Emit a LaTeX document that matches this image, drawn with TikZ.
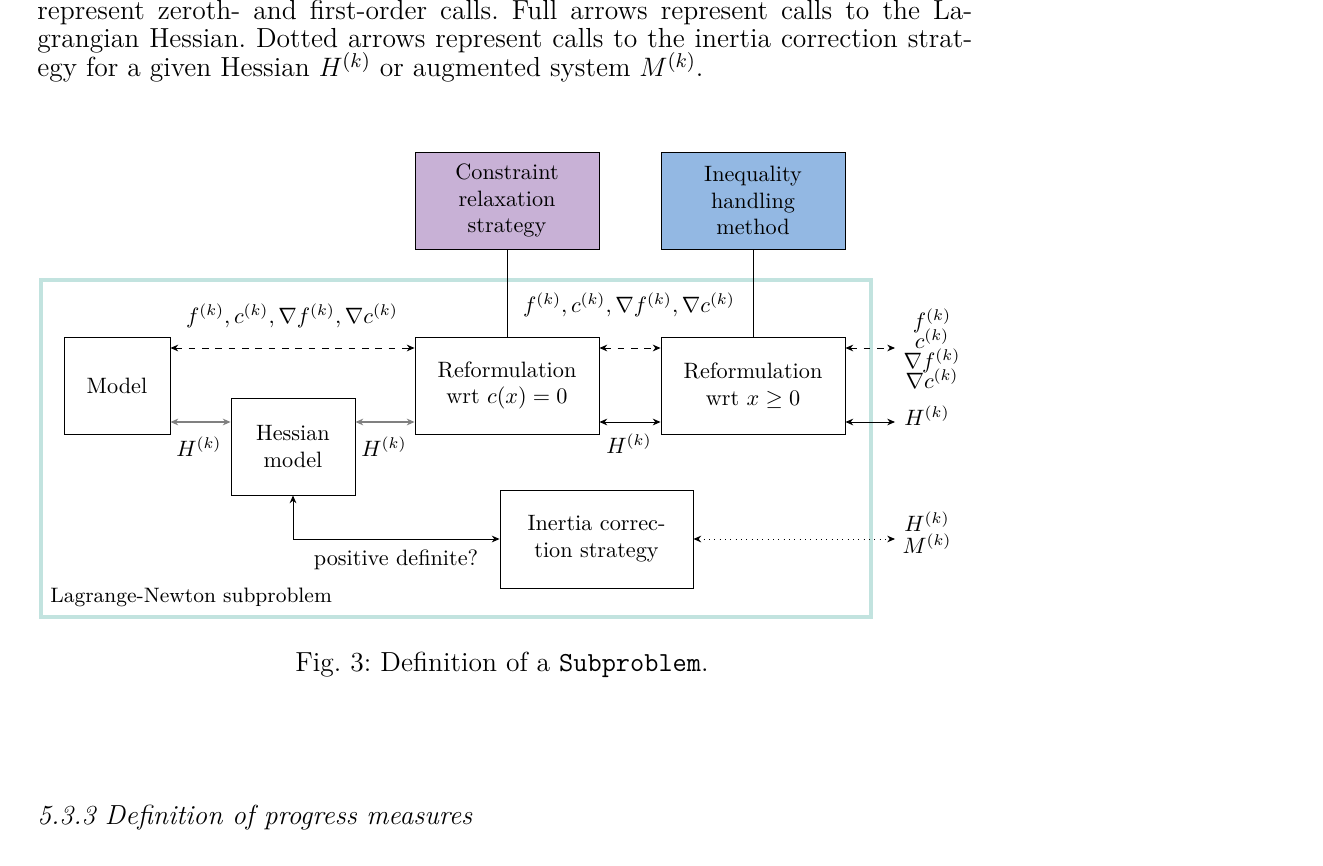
\documentclass[tikz,border=0pt]{standalone}
\usepackage{amsmath}
\usepackage{tikz}
\usetikzlibrary{arrows.meta,positioning}
\definecolor{relaxcol}{HTML}{C8B1D6}
\definecolor{ineqcol}{HTML}{93B8E3}
\definecolor{framecol}{HTML}{C2E3DF}
\tikzset{
  block/.style={draw, align=center, inner sep=2pt},
  calls/.style={<->, >={Stealth[length=3.5pt,width=3pt]}},
  zeroth/.style={calls, dashed},
  hess/.style={calls, draw=gray, thick},
  inertia/.style={calls, dotted},
  body/.style={font=\fontsize{12.4}{14}\selectfont, inner sep=0},
}
\frenchspacing
\begin{document}
\begin{tikzpicture}[x=0.45pt,y=-0.45pt,font=\fontsize{10}{12}\selectfont]
  \useasboundingbox (0,0) rectangle (1323,866);
  % surrounding text
  \node[anchor=base west, body] (l1) at (37,20)
    {\makebox[420.75pt][s]{represent zeroth- and first-order calls. Full arrows represent calls to the La-}};
  \node[anchor=base west, body] (l2) at (37,48)
    {\makebox[420.75pt][s]{grangian Hessian. Dotted arrows represent calls to the inertia correction strat-}};
  \node[anchor=base west, body] (l3) at (37,77)
    {egy for a given Hessian $H^{(k)}$ or augmented system $M^{(k)}$.};
  % frame
  \draw[framecol, line width=1.6pt] (41,280) rectangle (871,617);
  \node[anchor=base west, font=\fontsize{9.4}{11}\selectfont, inner sep=0] (frame) at (50,602) {Lagrange-Newton subproblem};
  % blocks
  \node[block, fill=relaxcol, minimum width=82.8pt, minimum height=43.65pt] (relax) at (507,200.5) {Constraint\\relaxation\\strategy};
  \node[block, fill=ineqcol, minimum width=82.8pt, minimum height=43.65pt] (ineq) at (753,200.5) {Inequality\\handling\\method};
  \node[block, minimum width=47.7pt, minimum height=43.65pt] (model) at (117,385.5) {Model};
  \node[block, minimum width=55.8pt, minimum height=43.65pt] (hessian) at (293,446.5) {Hessian\\model};
  \node[block, minimum width=82.8pt, minimum height=43.65pt] (refeq) at (507,385.5) {Reformulation\\wrt $c(x)=0$};
  \node[block, minimum width=82.8pt, minimum height=43.65pt] (refineq) at (753,385.5) {Reformulation\\wrt $x\geq 0$};
  \node[block, minimum width=86.85pt, minimum height=44.1pt] (corr) at (596.5,539) {Inertia correc-\\tion strategy};
  % free ends
  \coordinate (outf) at (895,348);
  \coordinate (outh) at (895,422);
  \coordinate (outm) at (895,539);
  \coordinate (bend) at (293,539);
  % connectors
  \draw (relax) -- (refeq);
  \draw (ineq) -- (refineq);
  \draw[zeroth] (model.east |- outf) -- (refeq.west |- outf);
  \draw[zeroth] (refeq.east |- outf) -- (refineq.west |- outf);
  \draw[zeroth] (refineq.east |- outf) -- (outf);
  \draw[hess] (model.east |- outh) -- (hessian.west |- outh);
  \draw[hess] (hessian.east |- outh) -- (refeq.west |- outh);
  \draw[calls] (refeq.east |- outh) -- (refineq.west |- outh);
  \draw[calls] (refineq.east |- outh) -- (outh);
  \draw[calls] (hessian.south) -- (bend) -- (corr.west |- bend);
  \draw[inertia] (corr.east |- outm) -- (outm);
  % labels
  \node (fc1) at (292,316) {$f^{(k)}, c^{(k)}, \nabla f^{(k)}, \nabla c^{(k)}$};
  \node (fc2) at (629,305) {$f^{(k)}, c^{(k)}, \nabla f^{(k)}, \nabla c^{(k)}$};
  \node[align=center, inner sep=0] (fc3) at (932,349) {$f^{(k)}$\\[-3pt]$c^{(k)}$\\[-3pt]$\nabla f^{(k)}$\\[-3pt]$\nabla c^{(k)}$};
  \node (h1) at (199,447) {$H^{(k)}$};
  \node (h2) at (384,447) {$H^{(k)}$};
  \node (h3) at (629,444) {$H^{(k)}$};
  \node (h4) at (927,416) {$H^{(k)}$};
  \node[align=center, inner sep=0] (hm) at (927,533) {$H^{(k)}$\\[-2pt]$M^{(k)}$};
  \node (posdef) at (396,560) {positive definite?};
  % caption and heading
  \node[body] (caption) at (502,665) {Fig.~3: Definition of a \texttt{Subproblem}.};
  \node[anchor=base west, body, font=\fontsize{12.4}{14}\selectfont\itshape] (sec) at (37,824) {5.3.3 Definition of progress measures};
\end{tikzpicture}
\end{document}
